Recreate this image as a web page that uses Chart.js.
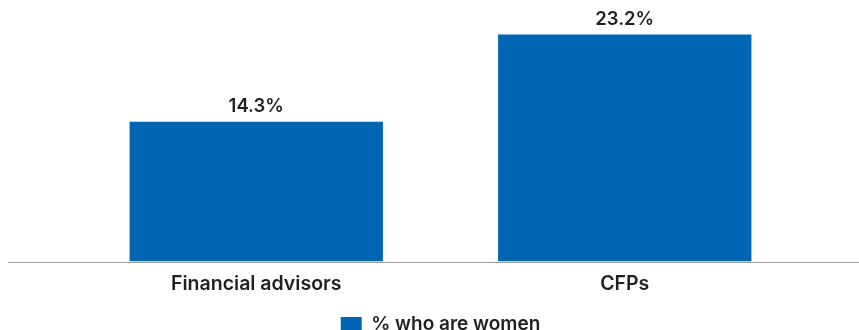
<!DOCTYPE html>
<html>
<head>
<meta charset="utf-8">
<script src="https://cdn.jsdelivr.net/npm/chart.js@4"></script>
<style>
  html, body { margin: 0; padding: 0; background: #fff; overflow: hidden; }
  #wrap { width: 859px; height: 344px; position: relative; }
</style>
</head>
<body>
<div id="wrap"><canvas id="womenChart"></canvas></div>
<script>
// Share of women among advisors
const categories = ["Financial advisors", "CFPs"];
const seriesLabel = "% who are women";
const womenShare = [14.3, 23.2];

const BAR_BLUE = "#0066b3";
const TEXT_DARK = "#231f20";
const FONT = "Inter, 'Open Sans', sans-serif";

// Value labels above each bar
const valueLabels = {
  id: "valueLabels",
  afterDatasetsDraw(chart) {
    const ctx = chart.ctx;
    const meta = chart.getDatasetMeta(0);
    ctx.save();
    ctx.fillStyle = TEXT_DARK;
    ctx.font = "600 18.5px " + FONT;
    ctx.textAlign = "center";
    ctx.textBaseline = "bottom";
    meta.data.forEach((bar, i) => {
      ctx.fillText(womenShare[i].toFixed(1) + "%", bar.x, bar.y - 6);
    });
    ctx.restore();
  }
};

// Baseline runs across the whole width, not just the plot area
const baseline = {
  id: "baseline",
  afterDatasetsDraw(chart) {
    const ctx = chart.ctx;
    const y = Math.round(chart.scales.y.getPixelForValue(0)) + 0.5;
    ctx.save();
    ctx.strokeStyle = "#9a9a9a";
    ctx.lineWidth = 1;
    ctx.beginPath();
    ctx.moveTo(8, y);
    ctx.lineTo(chart.width, y);
    ctx.stroke();
    ctx.restore();
  }
};

new Chart(document.getElementById("womenChart"), {
  type: "bar",
  data: {
    labels: categories,
    datasets: [{
      label: seriesLabel,
      data: womenShare,
      backgroundColor: BAR_BLUE,
      borderWidth: 0,
      categoryPercentage: 1,
      barPercentage: 0.6875
    }]
  },
  options: {
    responsive: true,
    maintainAspectRatio: false,
    animation: false,
    layout: { padding: { top: 17, left: 72, right: 50, bottom: 0 } },
    plugins: {
      tooltip: { enabled: false },
      legend: {
        position: "bottom",
        labels: {
          color: TEXT_DARK,
          font: { family: FONT, size: 19, weight: "600" },
          boxWidth: 21,
          boxHeight: 15,
          padding: 8
        }
      }
    },
    scales: {
      x: {
        grid: { display: false, drawTicks: false },
        border: { display: false },
        ticks: {
          color: TEXT_DARK,
          font: { family: FONT, size: 19.5, weight: "600" },
          padding: 11
        }
      },
      y: {
        display: false,
        min: 0,
        max: 25
      }
    }
  },
  plugins: [valueLabels, baseline]
});
</script>
</body>
</html>
